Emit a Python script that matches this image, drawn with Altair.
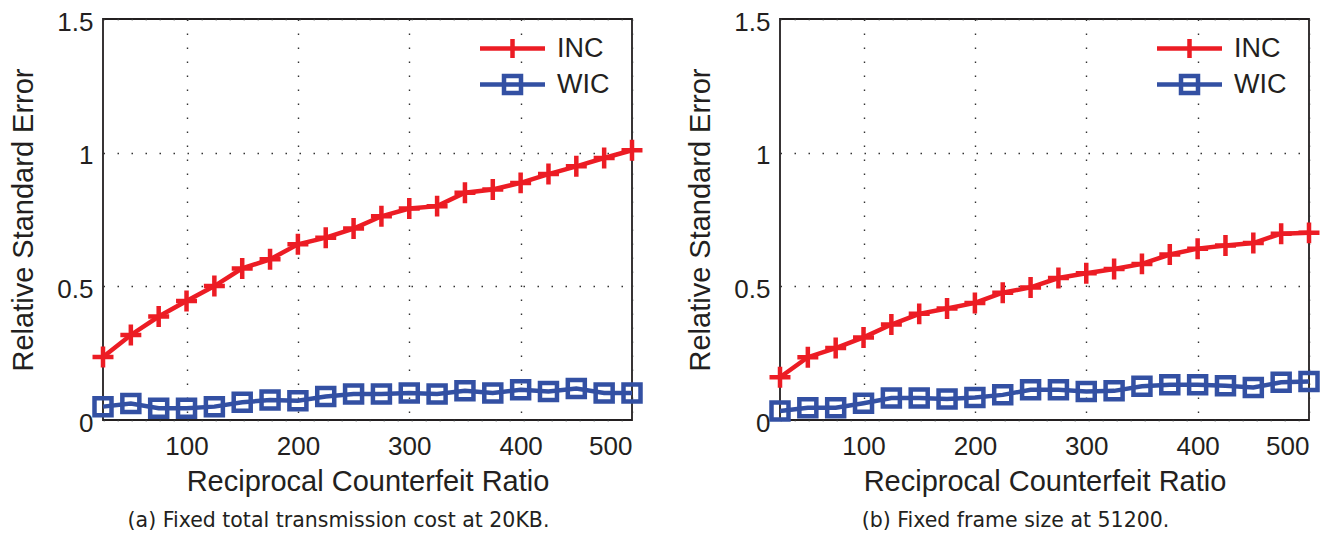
import altair as alt
import pandas as pd

# ---------------- data ----------------
x_vals = [25, 50, 75, 100, 125, 150, 175, 200, 225, 250,
          275, 300, 325, 350, 375, 400, 425, 450, 475, 500]

inc_a = [0.236, 0.318, 0.387, 0.445, 0.501, 0.567, 0.601, 0.657, 0.682, 0.716,
         0.762, 0.791, 0.800, 0.850, 0.862, 0.887, 0.920, 0.949, 0.980, 1.009]
wic_a = [0.050, 0.062, 0.044, 0.044, 0.050, 0.066, 0.075, 0.072, 0.088, 0.097,
         0.097, 0.101, 0.097, 0.109, 0.101, 0.113, 0.107, 0.118, 0.101, 0.101]

inc_b = [0.160, 0.235, 0.269, 0.309, 0.357, 0.397, 0.417, 0.438, 0.476, 0.496,
         0.531, 0.549, 0.565, 0.584, 0.619, 0.641, 0.653, 0.662, 0.697, 0.700]
wic_b = [0.034, 0.046, 0.046, 0.063, 0.082, 0.082, 0.079, 0.084, 0.094, 0.113,
         0.113, 0.107, 0.109, 0.126, 0.132, 0.132, 0.128, 0.122, 0.141, 0.144]

series_names = ["INC", "WIC"]
captions = ["(a) Fixed total transmission cost at 20KB.",
            "(b) Fixed frame size at 51200."]
x_ticks = [100, 200, 300, 400, 500]
y_ticks = [0, 0.5, 1, 1.5]
x_title = "Reciprocal Counterfeit Ratio"
y_title = "Relative Standard Error"

# ---------------- style ----------------
RED = "#ec1c24"
BLUE = "#3350a3"
INK = "#231f20"
FONT = "Liberation Sans"
CROSS = "M-1,0H1M0,-1V1"
LEG_INC = "M-3.25,0H3.25M0,-0.95V0.95"
LEG_WIC = "M-3.25,0H3.25M-0.85,-0.85H0.85V0.85H-0.85Z"


def panel(inc, wic, caption):
    n = len(x_vals)
    df = pd.DataFrame({
        "x": x_vals * 2,
        "y": inc + wic,
        "series": ["INC"] * n + ["WIC"] * n,
    })
    legend = alt.Legend(
        title=None, orient="none", legendX=396, legendY=16,
        symbolSize=400, symbolStrokeWidth=4.5, symbolFillColor="transparent",
        symbolOpacity=1,
        labelFont=FONT, labelFontSize=27, labelColor=INK,
        labelOffset=31, rowPadding=0, padding=0,
    )
    cscale = alt.Scale(domain=series_names, range=[RED, BLUE])
    xenc = alt.X("x:Q",
                 scale=alt.Scale(domain=[25, 500], nice=False, zero=False),
                 axis=alt.Axis(values=x_ticks, title=x_title,
                               labelPadding=13, titlePadding=8))
    yenc = alt.Y("y:Q",
                 scale=alt.Scale(domain=[0, 1.5], nice=False),
                 axis=alt.Axis(values=y_ticks, format="~g", title=y_title,
                               labelPadding=10, titlePadding=18, labelOffset=3))
    base = alt.Chart(df)
    # layer with no drawn rows that only carries the legend
    # (entries come from the explicit scale domain); placed first so its
    # legend definition is the one that is kept
    leg = base.transform_filter(alt.datum.y < 0).mark_point(
        filled=False, strokeWidth=4.5
    ).encode(
        x=xenc, y=yenc,
        color=alt.Color("series:N", scale=cscale, legend=legend),
        shape=alt.Shape("series:N",
                        scale=alt.Scale(domain=series_names, range=[LEG_INC, LEG_WIC]),
                        legend=legend),
    )
    line = base.mark_line(strokeWidth=4.5).encode(
        x=xenc, y=yenc,
        color=alt.Color("series:N", scale=cscale, legend=None))
    inc_pts = base.transform_filter(alt.datum.series == "INC").mark_point(
        shape=CROSS, size=440, filled=False, strokeWidth=4.5, opacity=1
    ).encode(x=xenc, y=yenc,
             color=alt.Color("series:N", scale=cscale, legend=None))
    wic_pts = base.transform_filter(alt.datum.series == "WIC").mark_point(
        shape="square", size=289, filled=False, strokeWidth=4.5, opacity=1
    ).encode(x=xenc, y=yenc,
             color=alt.Color("series:N", scale=cscale, legend=None))
    return alt.layer(leg, line, inc_pts, wic_pts).properties(
        width=529, height=401,
        title=alt.TitleParams(text=caption, orient="bottom", font="DejaVu Sans",
                              fontSize=20.5, fontWeight="normal", color=INK,
                              offset=15, anchor="middle", frame="group", dx=-29),
    )


chart = alt.hconcat(
    panel(inc_a, wic_a, captions[0]),
    panel(inc_b, wic_b, captions[1]),
    spacing=32,
).resolve_scale(
    color="independent", shape="independent"
).resolve_legend(
    color="independent", shape="independent"
).properties(
    padding={"left": 0, "top": 0, "right": 0, "bottom": 0}
).configure_view(
    stroke=INK, strokeWidth=1.8
).configure_axis(
    labelFont=FONT, labelFontSize=26, labelColor=INK,
    titleFont=FONT, titleFontSize=29, titleFontWeight="normal", titleColor=INK,
    domain=False, ticks=False, tickSize=0,
    grid=True, gridColor="#333333", gridDash=[1.5, 12.5], gridWidth=1.4,
    gridOpacity=1,
)

chart.save("out.html", embed_options={"renderer": "svg", "actions": False})
